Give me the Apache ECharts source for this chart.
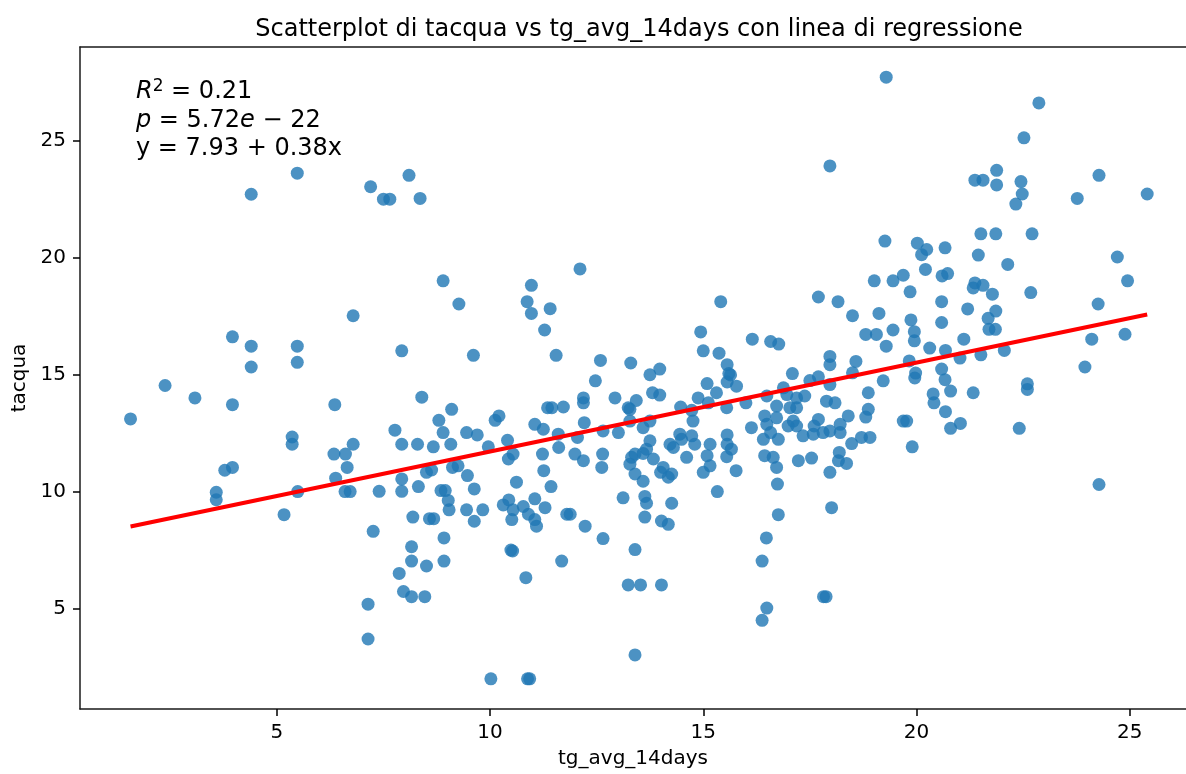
<!DOCTYPE html>
<html>
<head>
<meta charset="utf-8">
<script src="https://cdn.jsdelivr.net/npm/echarts@6/dist/echarts.min.js"></script>
<style>
  html, body { margin: 0; padding: 0; background: #fff; }
  #chart { width: 1186px; height: 774px; }
</style>
</head>
<body>
<div id="chart"></div>
<script>
// tg_avg_14days (x) and tacqua (y)
var xVals = [
  5.48, 4.40, 6.79, 3.96, 4.40, 5.48, 4.40, 5.48, 2.38, 8.10,
  7.20, 7.50, 7.65, 8.36, 12.11, 8.90, 9.27, 10.97, 10.87, 10.97,
  11.41, 11.28, 7.93, 9.61, 11.55, 12.59, 13.30, 12.47, 19.29, 17.97,
  19.26, 15.41, 17.70, 18.16, 19.01, 19.45, 19.69, 19.85, 18.50, 19.12,
  14.94, 15.00, 15.37, 16.15, 16.58, 16.77, 18.81, 19.06, 19.45, 19.29,
  19.87, 13.75, 13.98, 15.56, 15.60, 15.64, 17.97, 17.97, 18.58, 17.09,
  15.09, 17.50, 17.70, 18.50, 19.22, 19.83, 22.87, 22.52, 21.88, 21.37,
  21.56, 21.88, 22.45, 22.48, 22.33, 24.28, 23.77, 25.41, 21.51, 21.86,
  22.71, 20.02, 20.24, 20.12, 20.67, 21.45, 22.14, 24.71, 20.21, 20.60,
  20.73, 21.37, 21.33, 21.56, 21.78, 22.68, 24.95, 20.59, 21.20, 21.86,
  21.68, 21.70, 21.85, 24.26, 20.59, 19.95, 19.95, 21.11, 20.31, 20.68,
  21.02, 21.51, 22.06, 24.11, 24.89, 19.98, 20.59, 20.67, 23.95, 19.96,
  20.80, 20.39, 20.41, 21.33, 22.60, 22.60, 20.68, 19.77, 21.03, 20.80,
  22.41, 19.90, 24.28, 1.57, 3.08, 3.96, 6.36, 5.36, 5.36, 3.78,
  3.96, 3.58, 3.58, 5.49, 5.17, 6.34, 6.61, 6.79, 6.65, 6.38,
  6.60, 6.72, 8.40, 9.10, 8.80, 8.90, 7.77, 7.93, 8.30, 8.67,
  9.08, 9.45, 9.70, 10.12, 10.21, 9.96, 10.41, 10.54, 10.43, 11.35,
  11.45, 11.72, 11.05, 11.25, 11.60, 11.61, 11.23, 11.26, 11.43, 12.19,
  12.19, 12.93, 12.21, 12.05, 11.99, 12.19, 12.64, 12.62, 12.65, 13.01,
  13.24, 13.32, 13.12, 13.40, 13.24, 13.40, 7.93, 7.93, 7.40, 8.32,
  8.51, 8.63, 8.85, 8.95, 9.02, 9.04, 9.12, 9.25, 9.47, 9.63,
  9.45, 9.63, 9.83, 8.19, 8.58, 8.68, 8.92, 8.16, 8.16, 8.51,
  8.92, 7.87, 7.97, 8.16, 8.47, 7.26, 7.14, 7.14, 10.02, 10.88,
  10.93, 10.31, 10.44, 10.54, 10.51, 10.62, 10.78, 11.05, 11.05, 11.09,
  11.29, 10.90, 10.49, 10.53, 10.84, 11.68, 11.80, 11.88, 12.23, 12.65,
  15.56, 15.78, 13.81, 13.98, 13.43, 13.28, 14.88, 15.31, 15.12, 15.55,
  14.47, 14.73, 14.76, 16.00, 16.49, 16.88, 16.96, 17.19, 17.38, 17.97,
  16.72, 17.03, 17.19, 17.89, 18.09, 18.87, 18.87, 18.81, 19.69, 18.40,
  18.21, 17.70, 17.60, 17.81, 17.97, 17.58, 18.21, 17.11, 17.19, 17.34,
  16.99, 16.44, 16.49, 16.72, 16.58, 16.41, 16.76, 16.13, 16.44, 16.64,
  16.72, 17.23, 17.54, 18.19, 18.17, 18.36, 17.97, 18.48, 18.71, 18.91,
  16.74, 16.76, 16.48, 16.38, 16.49, 16.38, 18.01, 17.82, 17.88, 14.45,
  14.49, 14.73, 14.80, 14.61, 15.16, 15.09, 15.16, 15.00, 15.56, 15.56,
  15.66, 15.55, 15.77, 15.33, 14.22, 14.30, 14.06, 14.00, 14.18, 14.26,
  14.26, 13.59, 13.67, 13.75, 13.83, 13.40, 13.28, 13.40, 13.59, 13.63,
  13.67, 13.63, 14.02, 14.18, 13.53, 14.02, 13.28, 13.59, 13.75
];
var yVals = [
  23.62, 22.72, 17.53, 16.63, 16.23, 16.23, 15.34, 15.54, 14.55, 23.53,
  23.04, 22.51, 22.51, 22.54, 19.53, 19.02, 18.03, 18.83, 18.13, 17.63,
  17.83, 16.92, 16.03, 15.84, 15.84, 15.62, 15.51, 14.75, 27.72, 23.93,
  20.72, 18.13, 18.33, 18.13, 19.02, 19.02, 19.26, 18.55, 17.53, 17.63,
  16.84, 16.03, 15.93, 16.53, 16.43, 16.32, 16.73, 16.73, 16.92, 16.23,
  17.35, 15.01, 15.25, 15.44, 15.06, 15.00, 15.79, 15.44, 15.58, 15.06,
  14.63, 14.76, 14.92, 15.09, 14.75, 15.60, 26.62, 25.13, 23.74, 23.32,
  23.32, 23.12, 23.26, 22.73, 22.30, 23.53, 22.54, 22.73, 21.03, 21.03,
  21.03, 20.63, 20.36, 20.14, 20.43, 20.12, 19.72, 20.04, 19.51, 19.23,
  19.33, 18.93, 18.72, 18.83, 18.45, 18.52, 19.02, 18.13, 17.82, 17.73,
  17.42, 16.95, 16.95, 18.03, 17.24, 16.85, 16.46, 16.53, 16.15, 16.05,
  15.72, 15.86, 16.05, 16.53, 16.74, 15.08, 15.25, 14.80, 15.34, 14.87,
  14.31, 14.19, 13.81, 14.24, 14.62, 14.38, 13.43, 13.03, 12.93, 12.72,
  12.72, 11.93, 10.32, 13.12, 14.02, 13.73, 13.73, 12.35, 12.04, 10.93,
  11.05, 9.99, 9.67, 10.02, 9.03, 11.62, 11.62, 12.04, 11.05, 10.59,
  10.02, 10.02, 14.05, 13.53, 13.06, 12.54, 12.64, 12.04, 12.04, 11.93,
  12.04, 12.54, 12.44, 13.06, 13.25, 11.93, 12.21, 11.62, 11.41, 13.60,
  13.60, 13.63, 12.89, 12.68, 12.47, 11.90, 11.62, 10.91, 10.23, 14.02,
  13.81, 14.02, 12.96, 12.33, 11.62, 11.34, 11.62, 11.05, 12.61, 12.54,
  13.60, 11.48, 9.75, 7.54, 6.03, 3.04, 10.56, 10.03, 10.03, 10.23,
  10.84, 10.94, 10.06, 10.06, 9.64, 9.24, 11.05, 11.12, 10.70, 10.13,
  9.24, 8.75, 9.24, 8.93, 8.86, 8.86, 8.04, 7.66, 7.05, 6.84,
  7.05, 6.52, 5.75, 5.53, 5.53, 8.32, 5.21, 3.72, 2.02, 2.02,
  2.02, 9.45, 9.66, 9.24, 8.82, 10.42, 9.38, 9.71, 8.82, 8.54,
  9.33, 9.05, 7.52, 7.48, 6.34, 7.05, 9.05, 9.05, 8.54, 8.01,
  14.70, 14.52, 14.24, 14.14, 13.91, 13.53, 14.02, 14.24, 13.81, 13.60,
  13.63, 13.49, 13.03, 13.81, 14.10, 14.45, 14.16, 14.02, 14.10, 14.59,
  13.67, 13.60, 13.60, 13.88, 13.81, 14.24, 13.53, 13.20, 13.03, 13.25,
  12.89, 13.10, 12.82, 12.54, 12.61, 12.47, 12.54, 13.03, 12.82, 12.40,
  12.82, 13.25, 12.89, 13.17, 12.54, 12.25, 12.25, 12.75, 11.55, 11.48,
  11.05, 11.34, 11.45, 11.69, 11.34, 11.22, 10.84, 12.07, 12.33, 12.33,
  10.34, 9.03, 8.04, 7.05, 5.04, 4.52, 9.33, 5.53, 5.53, 12.47,
  12.25, 12.40, 12.04, 11.48, 12.04, 11.55, 11.12, 10.84, 12.44, 12.04,
  11.83, 11.51, 10.91, 10.02, 12.04, 11.90, 11.05, 10.84, 10.63, 10.77,
  9.52, 11.65, 11.83, 12.19, 11.41, 11.62, 11.19, 10.77, 10.46, 9.81,
  9.52, 8.93, 8.76, 8.62, 6.03, 6.03, 13.03, 12.75, 13.03
];
var xTicks = [5, 10, 15, 20, 25];
var yTicks = [5, 10, 15, 20, 25];
// fitted line y = a + b x
var intercept = 7.93;
var slope = 0.38;

(function () {
    var chart = echarts.init(document.getElementById('chart'));
    var font = 'DejaVu Sans';
    var spine = { show: true, lineStyle: { color: '#1a1a1a', width: 1.5 } };

    var points = xVals.map(function (x, i) { return [x, yVals[i]]; });
    var xMin = Math.min.apply(null, xVals);
    var xMax = Math.max.apply(null, xVals);
    var fitLine = [[xMin, intercept + slope * xMin], [xMax, intercept + slope * xMax]];

    var option = {
        backgroundColor: '#fff',
        animation: false,
        title: {
            text: 'Scatterplot di tacqua vs tg_avg_14days con linea di regressione',
            left: 634,
            top: 13,
            textAlign: 'center',
            textStyle: { fontFamily: font, fontSize: 24, fontWeight: 'normal', color: '#000' }
        },
        // the right edge of the plot is cut off in the original picture
        grid: { left: 80, top: 47, bottom: 61, right: 0, containLabel: false },
        xAxis: [{
            type: 'value',
            min: 0.385, max: 26.32,
            name: 'tg_avg_14days',
            nameLocation: 'middle',
            nameGap: 40,
            nameTextStyle: { fontFamily: font, fontSize: 20, color: '#000' },
            axisLine: spine,
            splitLine: { show: false },
            axisTick: { show: true, length: 7, customValues: xTicks, lineStyle: { color: '#000', width: 1.5 } },
            axisLabel: { customValues: xTicks, margin: 14, fontFamily: font, fontSize: 20, color: '#000' }
        }, {
            type: 'value',
            position: 'top',
            min: 0.385, max: 26.32,
            axisLine: spine,
            axisTick: { show: false },
            axisLabel: { show: false },
            splitLine: { show: false }
        }],
        yAxis: {
            type: 'value',
            min: 0.73, max: 29.01,
            name: 'tacqua',
            nameLocation: 'middle',
            nameGap: 47,
            nameTextStyle: { fontFamily: font, fontSize: 20, color: '#000' },
            axisLine: spine,
            splitLine: { show: false },
            axisTick: { show: true, length: 7, customValues: yTicks, lineStyle: { color: '#000', width: 1.5 } },
            axisLabel: { customValues: yTicks, margin: 14, fontFamily: font, fontSize: 20, color: '#000' }
        },
        graphic: [{
            type: 'text',
            x: 136, y: 78,
            z: 100,
            style: {
                text: '{it|R}{sup|2}{n| = 0.21}\n{it|p}{n| = 5.72}{it|e}{n| − 22}\n{n|y = 7.93 + 0.38x}',
                fill: '#000',
                fontFamily: font,
                fontSize: 24,
                lineHeight: 28.5,
                verticalAlign: 'top',
                rich: {
                    it: { fontFamily: font, fontSize: 24, fontStyle: 'italic', lineHeight: 28.5 },
                    sup: { fontFamily: font, fontSize: 17, lineHeight: 28.5, padding: [0, 0, 12, 0] },
                    n: { fontFamily: font, fontSize: 24, lineHeight: 28.5 }
                }
            }
        }],
        series: [{
            name: 'tacqua',
            type: 'scatter',
            symbolSize: 13,
            itemStyle: { color: '#1f77b4', opacity: 0.8 },
            data: points,
            z: 2
        }, {
            name: 'regressione',
            type: 'line',
            data: fitLine,
            symbol: 'none',
            lineStyle: { color: '#ff0000', width: 4 },
            z: 3
        }]
    };
    chart.setOption(option);
})();
</script>
</body>
</html>
